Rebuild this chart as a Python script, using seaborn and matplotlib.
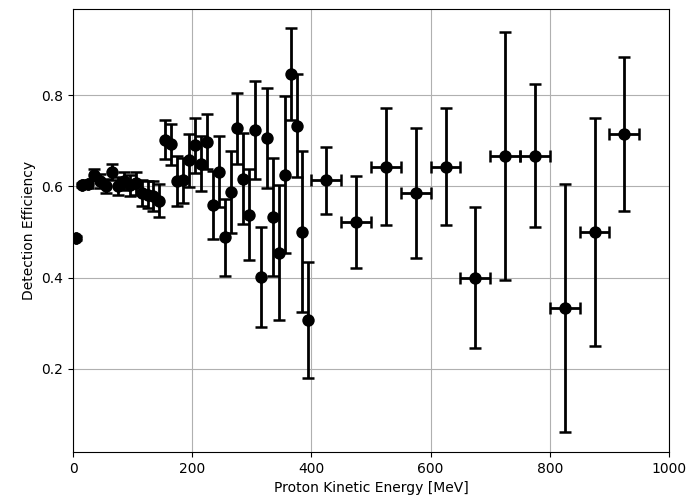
import matplotlib
matplotlib.use("Agg")
import matplotlib.pyplot as plt
import seaborn as sns
import pandas as pd

energy = [5, 15, 25, 35, 45, 55, 65, 75, 85, 95,
          105, 115, 125, 135, 145, 155, 165, 175, 185, 195,
          205, 215, 225, 235, 245, 255, 265, 275, 285, 295,
          305, 315, 325, 335, 345, 355, 365, 375, 385, 395,
          425, 475, 525, 575, 625, 675, 725, 775, 825, 875, 925]
energy_err = [0] * 40 + [25] * 11
efficiency = [0.487, 0.603, 0.605, 0.625, 0.612, 0.601, 0.632, 0.601, 0.612, 0.602,
              0.607, 0.585, 0.582, 0.578, 0.569, 0.702, 0.692, 0.611, 0.613, 0.657,
              0.690, 0.650, 0.698, 0.559, 0.632, 0.488, 0.587, 0.727, 0.617, 0.538,
              0.724, 0.401, 0.706, 0.533, 0.455, 0.626, 0.846, 0.733, 0.501, 0.308,
              0.613, 0.522, 0.643, 0.585, 0.643, 0.400, 0.667, 0.667, 0.333, 0.500, 0.715]
efficiency_err = [0.005, 0.005, 0.008, 0.012, 0.015, 0.015, 0.018, 0.020, 0.020, 0.022,
                  0.025, 0.028, 0.030, 0.033, 0.036, 0.043, 0.045, 0.055, 0.050, 0.058,
                  0.060, 0.060, 0.060, 0.075, 0.078, 0.085, 0.090, 0.077, 0.100, 0.100,
                  0.108, 0.110, 0.110, 0.130, 0.147, 0.172, 0.100, 0.113, 0.176, 0.127,
                  0.073, 0.100, 0.128, 0.142, 0.128, 0.155, 0.272, 0.157, 0.272, 0.250, 0.168]

df = pd.DataFrame({"E": energy, "eff": efficiency})

fig = plt.figure(figsize=(6.89, 5.03), dpi=100)
ax = fig.add_axes([0.106, 0.1014, 0.865, 0.8801])
ax.set_axisbelow(True)
ax.grid(True, color="#b0b0b0", linewidth=0.8)

ax.errorbar(energy, efficiency, xerr=energy_err, yerr=efficiency_err,
            fmt="none", ecolor="black", elinewidth=2, capsize=4, capthick=1.8, zorder=2)
sns.scatterplot(data=df, x="E", y="eff", ax=ax, color="black", s=80,
                edgecolor="black", linewidth=0, zorder=3)

ax.set_xlim(0, 1000)
ax.set_ylim(0.018, 0.988)
ax.set_xticks([0, 200, 400, 600, 800, 1000])
ax.set_yticks([0.2, 0.4, 0.6, 0.8])
ax.set_xlabel("Proton Kinetic Energy [MeV]", fontsize=10)
ax.set_ylabel("Detection Efficiency", fontsize=10)
ax.tick_params(labelsize=10)

fig.savefig("out.png", dpi=100)
